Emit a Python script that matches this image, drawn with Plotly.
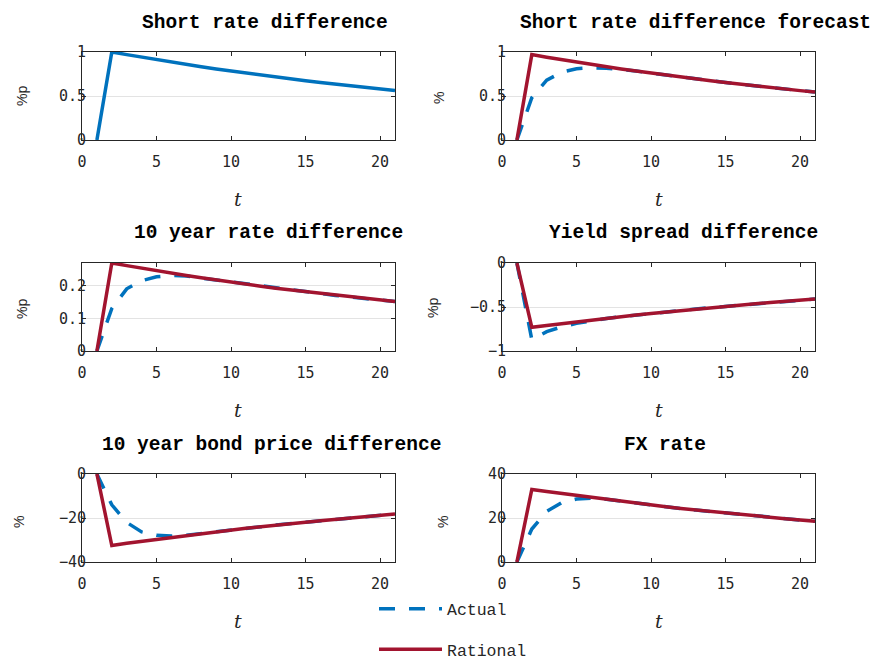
import plotly.graph_objects as go

# ---------------- data ----------------
t = list(range(1, 22))
x_ticks = [0, 5, 10, 15, 20]

short_rate = [0, 1.000, 0.970, 0.941, 0.913, 0.885, 0.859, 0.833, 0.808, 0.784, 0.760,
              0.737, 0.715, 0.694, 0.673, 0.653, 0.633, 0.614, 0.596, 0.578, 0.561]

forecast_actual = [0, 0.48, 0.68, 0.77, 0.81, 0.82, 0.815, 0.80, 0.784, 0.760, 0.737,
                   0.715, 0.694, 0.673, 0.653, 0.633, 0.614, 0.596, 0.578, 0.561, 0.544]
forecast_rational = [0, 0.970, 0.941, 0.913, 0.885, 0.859, 0.833, 0.808, 0.784, 0.760, 0.737,
                     0.715, 0.694, 0.673, 0.653, 0.633, 0.614, 0.596, 0.578, 0.561, 0.544]

long_actual = [0, 0.13, 0.19, 0.215, 0.227, 0.231, 0.229, 0.223, 0.217, 0.211, 0.204,
               0.198, 0.192, 0.187, 0.181, 0.176, 0.170, 0.165, 0.160, 0.155, 0.151]
long_rational = [0, 0.269, 0.261, 0.253, 0.246, 0.238, 0.231, 0.224, 0.217, 0.211, 0.204,
                 0.198, 0.192, 0.187, 0.181, 0.176, 0.170, 0.165, 0.160, 0.155, 0.151]

spread_actual = [0, -0.87, -0.78, -0.726, -0.686, -0.654, -0.630, -0.610, -0.591, -0.573, -0.556,
                 -0.539, -0.523, -0.507, -0.492, -0.477, -0.463, -0.449, -0.436, -0.423, -0.410]
spread_rational = [0, -0.731, -0.709, -0.688, -0.667, -0.647, -0.628, -0.609, -0.591, -0.573, -0.556,
                   -0.539, -0.523, -0.507, -0.492, -0.477, -0.463, -0.449, -0.436, -0.423, -0.410]

price_actual = [0, -14.0, -22.0, -26.3, -27.8, -28.2, -27.8, -27.1, -26.3, -25.5, -24.7,
                -24.0, -23.2, -22.6, -21.9, -21.2, -20.6, -20.0, -19.4, -18.8, -18.2]
price_rational = [0, -32.5, -31.5, -30.6, -29.7, -28.8, -27.9, -27.1, -26.3, -25.5, -24.7,
                  -24.0, -23.2, -22.6, -21.9, -21.2, -20.6, -20.0, -19.4, -18.8, -18.2]

fx_actual = [0, 15.0, 23.0, 27.0, 28.6, 29.0, 28.5, 27.6, 26.7, 25.9, 25.1,
             24.3, 23.6, 22.9, 22.2, 21.5, 20.9, 20.3, 19.7, 19.1, 18.5]
fx_rational = [0, 33.0, 32.0, 31.1, 30.1, 29.2, 28.3, 27.5, 26.7, 25.9, 25.1,
               24.3, 23.6, 22.9, 22.2, 21.5, 20.9, 20.3, 19.7, 19.1, 18.5]

titles = ["Short rate difference", "Short rate difference forecast",
          "10 year rate difference", "Yield spread difference",
          "10 year bond price difference", "FX rate"]
y_units = ["%p", "%", "%p", "%p", "%", "%"]
y_ranges = [[0, 1], [0, 1], [0, 0.269], [-1, 0], [-40, 0], [0, 40]]
y_ticks = [[0, 0.5, 1], [0, 0.5, 1], [0, 0.1, 0.2], [-1, -0.5, 0], [-40, -20, 0], [0, 20, 40]]
legend_names = ["Actual", "Rational"]

# ---------------- style ----------------
W, H = 878, 660
BLUE = "#0072BD"
RED = "#A2142F"
AX = "#262626"
GRID = "#e3e3e3"
LW = 3.5
DASH = "16px,14px"

col_px = [(82, 395), (502, 815)]
row_px = [(52, 140), (263, 351), (474, 562)]
title_left_px = [140, 518, 132, 547, 100, 622]
title_y_px = [23, 233, 445]
tlabel_y_px = [199, 410, 621]
ylab_px = [(22, 96), (439, 98), (22, 309), (433, 308), (19, 522), (443, 522)]


def px_x(v):
    return v / W


def px_y(v):
    return 1 - v / H


fig = go.Figure()

panel_series = [
    [(short_rate, BLUE, "solid", None)],
    [(forecast_actual, BLUE, DASH, 0), (forecast_rational, RED, "solid", 1)],
    [(long_actual, BLUE, DASH, 0), (long_rational, RED, "solid", 1)],
    [(spread_actual, BLUE, DASH, 0), (spread_rational, RED, "solid", 1)],
    [(price_actual, BLUE, DASH, 0), (price_rational, RED, "solid", 1)],
    [(fx_actual, BLUE, DASH, 0), (fx_rational, RED, "solid", 1)],
]

annotations = []
for i in range(6):
    r, c = divmod(i, 2)
    k = "" if i == 0 else str(i + 1)
    xa, ya = "x" + k, "y" + k
    for vals, color, dash, leg in panel_series[i]:
        show = (i == 5 and leg is not None)
        fig.add_trace(go.Scatter(
            x=t, y=vals, mode="lines", xaxis=xa, yaxis=ya,
            line=dict(color=color, width=LW, dash=dash),
            name=legend_names[leg] if leg is not None else "",
            legendgroup=legend_names[leg] if leg is not None else None,
            showlegend=show, hoverinfo="skip"))
    x0, x1 = col_px[c]
    y0, y1 = row_px[r]
    axis_common = dict(showline=True, linecolor=AX, linewidth=1, mirror="ticks",
                       ticks="inside", ticklen=4, tickcolor=AX, tickwidth=1,
                       tickfont=dict(family="DejaVu Sans Mono", size=15, color=AX),
                       zeroline=False)
    fig.layout["xaxis" + k] = dict(
        domain=[px_x(x0), px_x(x1)], anchor=ya, range=[0, 21],
        tickvals=x_ticks, showgrid=False, ticklabelstandoff=8, **axis_common)
    fig.layout["yaxis" + k] = dict(
        domain=[px_y(y1), px_y(y0)], anchor=xa, range=y_ranges[i],
        tickvals=y_ticks[i], showgrid=True, gridcolor=GRID, gridwidth=1,
        ticklabelstandoff=-8, **axis_common)

    annotations.append(dict(
        text="<b>" + titles[i] + "</b>", xref="paper", yref="paper",
        x=px_x(title_left_px[i]), y=px_y(title_y_px[r]), xanchor="left", yanchor="middle",
        showarrow=False, font=dict(family="Liberation Mono", size=19.5, color="black")))
    annotations.append(dict(
        text="<i>t</i>", xref="paper", yref="paper",
        x=px_x((x0 + x1) / 2), y=px_y(tlabel_y_px[r]), xanchor="center", yanchor="middle",
        showarrow=False, font=dict(family="DejaVu Serif", size=19, color=AX)))
    annotations.append(dict(
        text=y_units[i], xref="paper", yref="paper", textangle=-90,
        x=px_x(ylab_px[i][0]), y=px_y(ylab_px[i][1]), xanchor="center", yanchor="middle",
        showarrow=False, font=dict(family="Liberation Sans", size=14, color=AX)))

fig.update_layout(
    width=W, height=H,
    margin=dict(l=0, r=0, t=0, b=0, autoexpand=False),
    paper_bgcolor="white", plot_bgcolor="white",
    annotations=annotations,
    showlegend=True,
    legend=dict(x=px_x(374), y=-0.010, xanchor="left", yanchor="bottom",
                traceorder="grouped", tracegroupgap=16, itemwidth=63,
                font=dict(family="Liberation Mono", size=16.5, color=AX),
                bgcolor="rgba(0,0,0,0)", borderwidth=0),
)

fig.write_html("out.html", config={"displayModeBar": False},
               post_script="document.body.style.margin='0px';")
